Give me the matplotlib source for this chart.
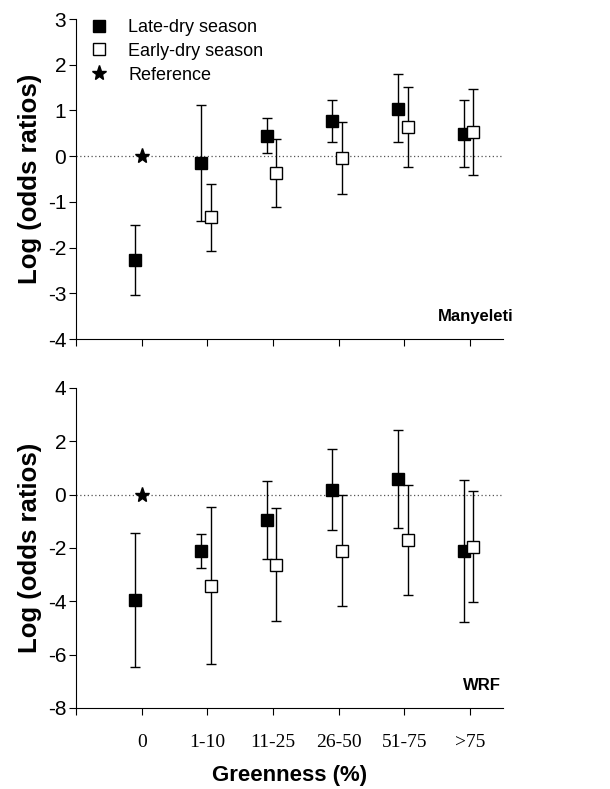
import numpy as np
import matplotlib.pyplot as plt
from matplotlib.lines import Line2D

plt.rcParams['font.family'] = ['Liberation Sans', 'DejaVu Sans']
plt.rcParams['axes.unicode_minus'] = False

groups = ['0', '1-10', '11-25', '26-50', '51-75', '>75']

# Manyeleti (top panel)
man_late = [-2.27, -0.16, 0.44, 0.77, 1.04, 0.49]
man_late_hi = [-1.50, 1.11, 0.83, 1.23, 1.79, 1.23]
man_late_lo = [-3.03, -1.42, 0.07, 0.30, 0.31, -0.23]
man_early = [-1.34, -0.37, -0.04, 0.63, 0.53]
man_early_hi = [-0.60, 0.38, 0.74, 1.51, 1.48]
man_early_lo = [-2.07, -1.12, -0.82, -0.23, -0.41]

# WRF (bottom panel)
wrf_late = [-3.95, -2.11, -0.96, 0.18, 0.59, -2.11]
wrf_late_hi = [-1.44, -1.48, 0.51, 1.71, 2.44, 0.56]
wrf_late_lo = [-6.46, -2.75, -2.41, -1.34, -1.25, -4.78]
wrf_early = [-3.41, -2.64, -2.11, -1.71, -1.95]
wrf_early_hi = [-0.48, -0.50, -0.01, 0.36, 0.14]
wrf_early_lo = [-6.35, -4.75, -4.19, -3.78, -4.01]

ref_value = 0

fig = plt.figure(figsize=(6.1, 7.89), dpi=100)
ax1 = fig.add_axes([0.1246, 0.5703, 0.700, 0.4056])
ax2 = fig.add_axes([0.1246, 0.1027, 0.700, 0.4056])

x = np.arange(1, len(groups) + 1)


def panel(ax, late, late_hi, late_lo, early, early_hi, early_lo, ylim, yticks, name, name_x):
    late = np.array(late)
    early = np.array(early)
    ax.axhline(0, color='#555555', lw=0.9, ls=(0, (1, 2)), zorder=1)
    ax.errorbar(x - 0.1, late,
                yerr=[late - np.array(late_lo), np.array(late_hi) - late],
                fmt='s', color='black', mfc='black', mec='black', ms=8,
                ecolor='black', elinewidth=1, capsize=3.8, capthick=1, zorder=3)
    ax.errorbar(x[1:] + 0.05, early,
                yerr=[early - np.array(early_lo), np.array(early_hi) - early],
                fmt='s', color='black', mfc='white', mec='black', ms=8,
                ecolor='black', elinewidth=1, capsize=3.8, capthick=1, zorder=3)
    ax.plot([x[0]], [ref_value], marker='*', ls='none', color='black', ms=11, zorder=3)
    ax.set_xlim(0, 6.5)
    ax.set_ylim(*ylim)
    ax.set_yticks(yticks)
    ax.set_xticks(np.arange(0, 7))
    ax.spines['top'].set_visible(False)
    ax.spines['right'].set_visible(False)
    ax.tick_params(axis='y', direction='out', length=5, labelsize=15, pad=2)
    ax.tick_params(axis='x', direction='out', length=5)
    ax.set_ylabel('Log (odds ratios)', fontsize=18.5, fontweight='bold', labelpad=4)
    ax.text(name_x, 0.07, name, transform=ax.transAxes, ha='right', va='center',
            fontsize=12, fontweight='bold')


panel(ax1, man_late, man_late_hi, man_late_lo, man_early, man_early_hi, man_early_lo,
      (-4, 3), range(-4, 4), 'Manyeleti', 1.025)
panel(ax2, wrf_late, wrf_late_hi, wrf_late_lo, wrf_early, wrf_early_hi, wrf_early_lo,
      (-8, 4), range(-8, 5, 2), 'WRF', 0.995)

ax1.set_xticklabels([])
ax2.set_xticklabels([''] + groups, fontfamily='Liberation Serif', fontsize=14)
ax2.tick_params(axis='x', pad=14)
ax2.set_xlabel('Greenness (%)', fontsize=16, fontweight='bold', labelpad=10)

handles = [
    Line2D([], [], marker='s', ls='none', color='black', mfc='black', ms=8),
    Line2D([], [], marker='s', ls='none', color='black', mfc='white', ms=8),
    Line2D([], [], marker='*', ls='none', color='black', ms=11),
]
ax1.legend(handles, ['Late-dry season', 'Early-dry season', 'Reference'],
           loc='upper left', bbox_to_anchor=(0.0, 1.04), frameon=False,
           fontsize=13, handlelength=1.2, handletextpad=1.0, labelspacing=0.38,
           borderaxespad=0.3)

fig.savefig('out.png', dpi=100)
